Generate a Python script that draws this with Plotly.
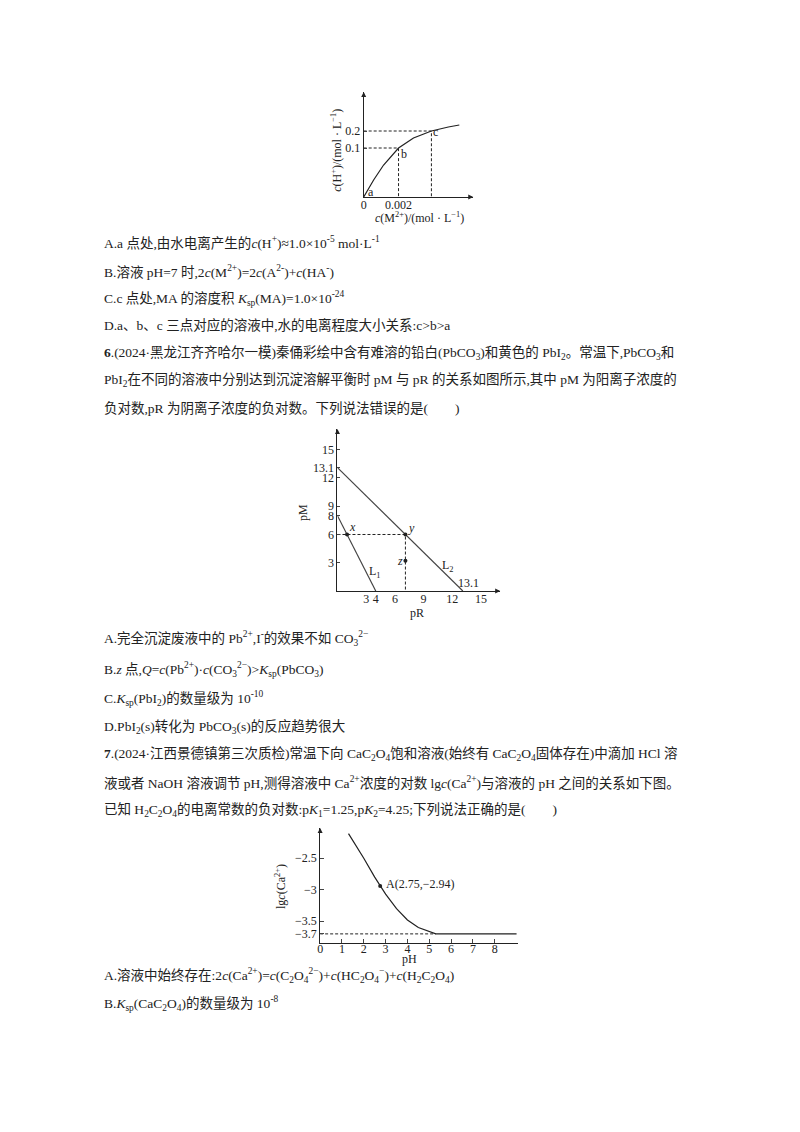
import plotly.graph_objects as go

W, H = 800, 1132
OFF = 8  # page body margin

# chart 1 (schematic, positions in arbitrary axis units)
c1_x = [0, 5, 10, 20, 35, 50, 68, 85, 96]
c1_y = [0, 9, 17, 32, 49, 59, 66, 70, 72]
c1_ticks_y = [49, 66]
c1_ticktext_y = ["0.1", "0.2"]
c1_b = (35, 49)
c1_c = (68, 66)

# chart 2
l1_pr = [0, 4]
l1_pm = [8, 0]
l2_pr = [0, 13.1]
l2_pm = [13.1, 0]
pt_x = (1, 6)
pt_y = (7.1, 6)
pt_z = (7.1, 3.2)
c2_xticks = [3, 4, 6, 9, 12, 15]
c2_yticks = [3, 6, 8, 9, 12, 13.1, 15]

# chart 3
ph = [1.3, 1.75, 2.0, 2.5, 2.75, 3.0, 3.5, 4.0, 4.5, 5.0, 5.3, 9.0]
lgca = [-2.11, -2.36, -2.5, -2.8, -2.94, -3.07, -3.3, -3.48, -3.6, -3.67, -3.7, -3.7]
pt_a = (2.75, -2.94)
c3_xticks = [0, 1, 2, 3, 4, 5, 6, 7, 8]
c3_yticks = [-2.5, -3, -3.5, -3.7]
c3_yticktext = ["−2.5", "−3", "−3.5", "−3.7"]

FONT = "Liberation Serif, Noto Sans CJK SC"
BLACK = "#222"
DASH = "3px,2px"


def px(x):
    return (x - OFF) / W


def py(y):
    return 1 - (y - OFF) / H


def dom(a, b, f):
    return [min(f(a), f(b)), max(f(a), f(b))]


fig = go.Figure()

# ---- chart 1
fig.add_trace(go.Scatter(x=c1_x, y=c1_y, mode="lines", line=dict(color=BLACK, width=1.2),
                         xaxis="x", yaxis="y"))
for (bx, by) in [c1_b, c1_c]:
    fig.add_trace(go.Scatter(x=[0, bx, bx], y=[by, by, 0], mode="lines",
                             line=dict(color=BLACK, width=1, dash=DASH), xaxis="x", yaxis="y"))

# ---- chart 2
fig.add_trace(go.Scatter(x=l1_pr, y=l1_pm, mode="lines", line=dict(color="#444", width=1.2),
                         xaxis="x2", yaxis="y2"))
fig.add_trace(go.Scatter(x=l2_pr, y=l2_pm, mode="lines", line=dict(color="#444", width=1.2),
                         xaxis="x2", yaxis="y2"))
fig.add_trace(go.Scatter(x=[0, pt_y[0], pt_y[0]], y=[pt_y[1], pt_y[1], 0], mode="lines",
                         line=dict(color=BLACK, width=1, dash=DASH), xaxis="x2", yaxis="y2"))
fig.add_trace(go.Scatter(x=[pt_x[0], pt_y[0], pt_z[0]], y=[pt_x[1], pt_y[1], pt_z[1]], mode="markers",
                         marker=dict(color=BLACK, size=4), xaxis="x2", yaxis="y2"))

# ---- chart 3
fig.add_trace(go.Scatter(x=ph, y=lgca, mode="lines", line=dict(color=BLACK, width=1.2),
                         xaxis="x3", yaxis="y3"))
fig.add_trace(go.Scatter(x=[0, 5.3], y=[-3.7, -3.7], mode="lines",
                         line=dict(color=BLACK, width=1, dash=DASH), xaxis="x3", yaxis="y3"))
fig.add_trace(go.Scatter(x=[pt_a[0]], y=[pt_a[1]], mode="markers",
                         marker=dict(color=BLACK, size=4), xaxis="x3", yaxis="y3"))

axcommon = dict(showgrid=False, zeroline=False, showline=True, linecolor=BLACK, linewidth=1,
                tickfont=dict(family=FONT, size=12, color=BLACK), ticks="", ticklen=3)

fig.update_layout(
    width=W, height=H, margin=dict(l=0, r=0, t=0, b=0),
    paper_bgcolor="white", plot_bgcolor="white", showlegend=False,
    xaxis=dict(axcommon, domain=dom(362, 472, px), range=[0, 110], anchor="y",
               tickvals=[0, 35], ticktext=["0", "0.002"], ticklabelstandoff=-3),
    yaxis=dict(axcommon, domain=dom(197, 92, py), range=[0, 105], anchor="x",
               tickvals=c1_ticks_y, ticktext=c1_ticktext_y, ticks="inside"),
    xaxis2=dict(axcommon, domain=dom(335.7, 499, px), range=[0, 17], anchor="y2",
                tickvals=c2_xticks, ticklabelstandoff=-3),
    yaxis2=dict(axcommon, domain=dom(591, 429, py), range=[0, 17.2], anchor="x2",
                tickvals=c2_yticks, ticks="inside"),
    xaxis3=dict(axcommon, domain=dom(318.3, 517, px), range=[0, 9.07], anchor="y3",
                tickvals=c3_xticks, ticks="inside", ticklen=4, ticklabelstandoff=-5),
    yaxis3=dict(axcommon, domain=dom(942.7, 828, py), range=[-3.84, -2.02], anchor="x3",
                tickvals=c3_yticks, ticktext=c3_yticktext, ticks="inside", ticklen=4),
)


def note(x, y, text, size=13, xanchor="left", angle=0, font=FONT):
    fig.add_annotation(x=px(x), y=py(y), xref="paper", yref="paper", text=text,
                       showarrow=False, xanchor=xanchor, yanchor="middle", textangle=angle,
                       borderpad=0, font=dict(family=font, size=size, color=BLACK))


def arrow(xa, ya, xv, yv, dx, dy):
    fig.add_annotation(x=xv, y=yv, xref=xa, yref=ya, ax=dx, ay=dy, axref="pixel", ayref="pixel",
                       text="", showarrow=True, arrowhead=2, arrowsize=1, arrowwidth=1,
                       arrowcolor=BLACK, standoff=0)


# axis arrows
arrow("x", "y", 0, 105, 0, 6)
arrow("x", "y", 110, 0, -6, 0)
arrow("x2", "y2", 0, 17.2, 0, 6)
arrow("x2", "y2", 17, 0, -6, 0)
arrow("x3", "y3", 0, -2.02, 0, 6)

# chart labels
note(334, 150, "<i>c</i>(H<sup>+</sup>)/(mol · L<sup>−1</sup>)", size=12, xanchor="center", angle=-90)
note(418, 218, "<i>c</i>(M<sup>2+</sup>)/(mol · L<sup>−1</sup>)", size=12, xanchor="center")
note(365, 192, "a", size=12)
note(398, 154, "b", size=12)
note(431, 132, "c", size=12)
note(301, 512, "pM", size=12, xanchor="center", angle=-90)
note(416, 613, "pR", size=12, xanchor="center")
note(346, 527, "<i>x</i>", size=12)
note(405, 528, "<i>y</i>", size=12)
note(394, 561, "<i>z</i>", size=12)
note(366, 572, "L<sub>1</sub>", size=12)
note(440, 566, "L<sub>2</sub>", size=12)
note(456, 583, "13.1", size=12)
note(278, 886, "lg<i>c</i>(Ca<sup>2+</sup>)", size=12, xanchor="center", angle=-90)
note(408, 959, "pH", size=12, xanchor="center")
note(383, 884, "A(2.75,−2.94)", size=12)

# page text
lines = [
    (242, "A.a 点处,由水电离产生的<i>c</i>(H<sup>+</sup>)≈1.0×10<sup>-5</sup> mol·L<sup>-1</sup>"),
    (271, "B.溶液 pH=7 时,2<i>c</i>(M<sup>2+</sup>)=2<i>c</i>(A<sup>2-</sup>)+<i>c</i>(HA<sup>-</sup>)"),
    (298, "C.c 点处,MA 的溶度积 <i>K</i><sub>sp</sub>(MA)=1.0×10<sup>-24</sup>"),
    (325, "D.a、b、c 三点对应的溶液中,水的电离程度大小关系:c>b>a"),
    (353, "<b>6</b>.(2024·黑龙江齐齐哈尔一模)秦俑彩绘中含有难溶的铅白(PbCO<sub>3</sub>)和黄色的 PbI<sub>2</sub>。常温下,PbCO<sub>3</sub>和"),
    (380, "PbI<sub>2</sub>在不同的溶液中分别达到沉淀溶解平衡时 pM 与 pR 的关系如图所示,其中 pM 为阳离子浓度的"),
    (408, "负对数,pR 为阴离子浓度的负对数。下列说法错误的是(　　)"),
    (638, "A.完全沉淀废液中的 Pb<sup>2+</sup>,I<sup>-</sup>的效果不如 CO<sub>3</sub><sup>2−</sup>"),
    (669, "B.<i>z</i> 点,<i>Q</i>=<i>c</i>(Pb<sup>2+</sup>)·<i>c</i>(CO<sub>3</sub><sup>2−</sup>)><i>K</i><sub>sp</sub>(PbCO<sub>3</sub>)"),
    (698, "C.<i>K</i><sub>sp</sub>(PbI<sub>2</sub>)的数量级为 10<sup>-10</sup>"),
    (727, "D.PbI<sub>2</sub>(s)转化为 PbCO<sub>3</sub>(s)的反应趋势很大"),
    (754, "<b>7</b>.(2024·江西景德镇第三次质检)常温下向 CaC<sub>2</sub>O<sub>4</sub>饱和溶液(始终有 CaC<sub>2</sub>O<sub>4</sub>固体存在)中滴加 HCl 溶"),
    (782, "液或者 NaOH 溶液调节 pH,测得溶液中 Ca<sup>2+</sup>浓度的对数 lg<i>c</i>(Ca<sup>2+</sup>)与溶液的 pH 之间的关系如下图。"),
    (810, "已知 H<sub>2</sub>C<sub>2</sub>O<sub>4</sub>的电离常数的负对数:p<i>K</i><sub>1</sub>=1.25,p<i>K</i><sub>2</sub>=4.25;下列说法正确的是(　　)"),
    (975, "A.溶液中始终存在:2<i>c</i>(Ca<sup>2+</sup>)=<i>c</i>(C<sub>2</sub>O<sub>4</sub><sup>2−</sup>)+<i>c</i>(HC<sub>2</sub>O<sub>4</sub><sup>−</sup>)+<i>c</i>(H<sub>2</sub>C<sub>2</sub>O<sub>4</sub>)"),
    (1003, "B.<i>K</i><sub>sp</sub>(CaC<sub>2</sub>O<sub>4</sub>)的数量级为 10<sup>-8</sup>"),
]
for y, t in lines:
    note(100, y, t, size=13.5)

fig.write_html("out.html")
